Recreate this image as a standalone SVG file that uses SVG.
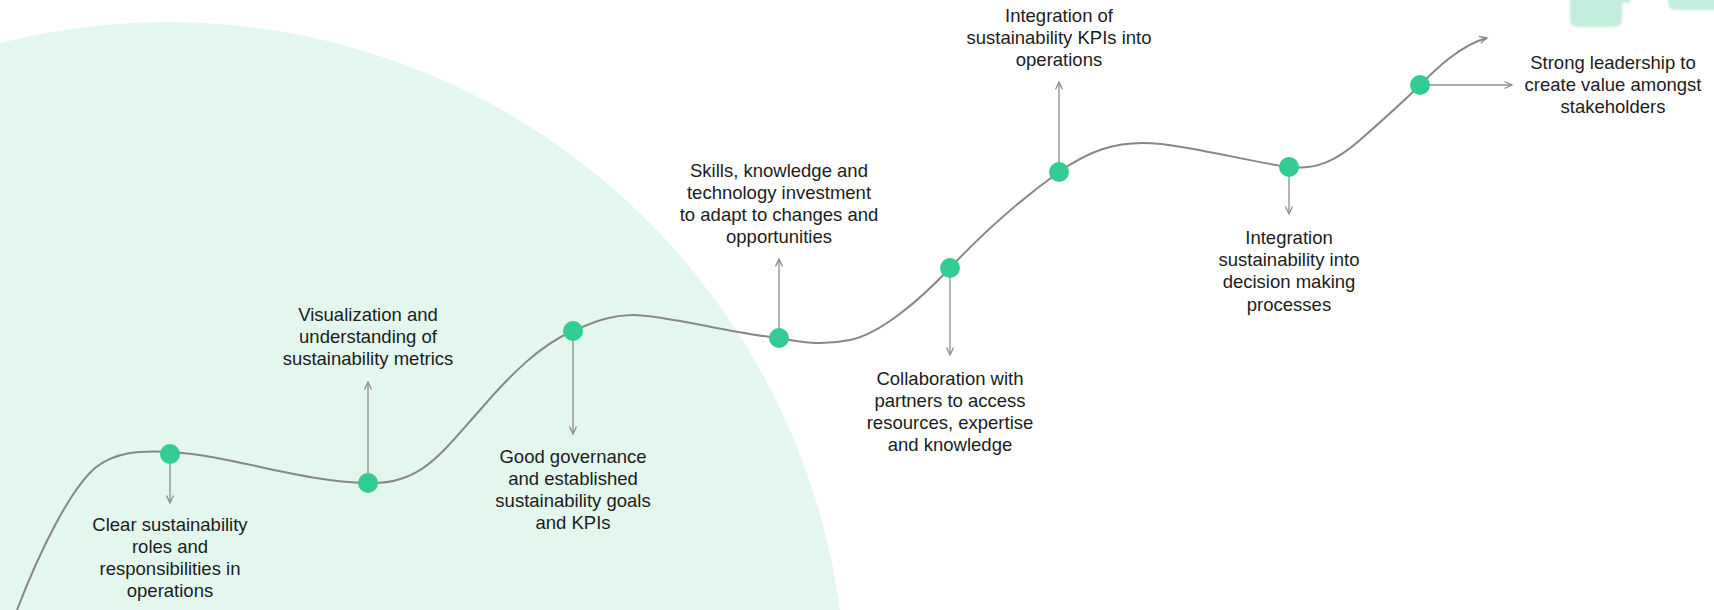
<svg xmlns="http://www.w3.org/2000/svg" width="1714" height="610" viewBox="0 0 1714 610">
  <style>
    .label { font-family: "Liberation Sans", Arial, sans-serif; font-size: 18.5px; fill: #1c1c1c; text-anchor: middle; }
    .dot { fill: #33CC95; }
    .track { fill: none; stroke: #878787; stroke-width: 2; }
    .link { fill: none; stroke: #8c8c8c; stroke-width: 1.3; marker-end: url(#head); }
  </style>
  <defs>
    <marker id="head" markerUnits="userSpaceOnUse" markerWidth="12" markerHeight="12" refX="8" refY="4" orient="auto" overflow="visible">
      <path d="M0.5,0.5 L8,4 L0.5,7.5" fill="none" stroke="#8c8c8c" stroke-width="1.3"/>
    </marker>
    <filter id="soft" x="-20%" y="-20%" width="140%" height="140%">
      <feGaussianBlur stdDeviation="1.2"/>
    </filter>
  </defs>

  <rect width="1714" height="610" fill="#ffffff"/>

  <!-- backdrop -->
  <circle cx="168" cy="700" r="678" fill="#E3F7EE"/>
  <g filter="url(#soft)" fill="#C3EDDC">
    <path d="M1570,-10 L1630,-10 L1630,3 L1622,3 L1622,19 Q1622,27 1614,27 L1578,27 Q1570,27 1570,19 Z"/>
    <path d="M1668,-10 L1720,-10 L1720,10 L1676,10 Q1668,10 1668,2 Z"/>
  </g>

  <!-- connectors -->
  <g id="connectors">
    <path class="track" marker-end="url(#head)" d="M17,610 C40,550 70,490 95,468 C115,452 140,450 170,452 C230,455 300,482 368,483 C420,485 440,455 480,410 C510,375 540,345 573,331 C600,319 615,315 633,315 C665,315 735,334 779,338 C800,342 820,346 850,340 C880,334 920,300 950,268 C980,236 1020,200 1059,172 C1090,150 1115,143 1143,143 C1180,143 1250,162 1289,167 C1315,170 1335,162 1360,140 C1385,118 1405,100 1420,85 C1435,70 1460,45 1487,38"/>
    <line class="link" x1="170" y1="454" x2="170" y2="503"/>
    <line class="link" x1="368" y1="483" x2="368" y2="382"/>
    <line class="link" x1="573" y1="331" x2="573" y2="434"/>
    <line class="link" x1="779" y1="338" x2="779" y2="259"/>
    <line class="link" x1="950" y1="268" x2="950" y2="355"/>
    <line class="link" x1="1059" y1="172" x2="1059" y2="82"/>
    <line class="link" x1="1289" y1="167" x2="1289" y2="214"/>
    <line class="link" x1="1420" y1="85" x2="1512" y2="85"/>
  </g>

  <!-- milestones -->
  <g id="step-roles">
    <circle class="dot" cx="170" cy="454" r="10"/>
    <text class="label" x="170" y="531">Clear sustainability</text>
    <text class="label" x="170" y="553">roles and</text>
    <text class="label" x="170" y="575">responsibilities in</text>
    <text class="label" x="170" y="597">operations</text>
  </g>
  <g id="step-metrics">
    <circle class="dot" cx="368" cy="483" r="10"/>
    <text class="label" x="368" y="321">Visualization and</text>
    <text class="label" x="368" y="343">understanding of</text>
    <text class="label" x="368" y="365">sustainability metrics</text>
  </g>
  <g id="step-governance">
    <circle class="dot" cx="573" cy="331" r="10"/>
    <text class="label" x="573" y="463">Good governance</text>
    <text class="label" x="573" y="485">and established</text>
    <text class="label" x="573" y="507">sustainability goals</text>
    <text class="label" x="573" y="529">and KPIs</text>
  </g>
  <g id="step-skills">
    <circle class="dot" cx="779" cy="338" r="10"/>
    <text class="label" x="779" y="177">Skills, knowledge and</text>
    <text class="label" x="779" y="199">technology investment</text>
    <text class="label" x="779" y="221">to adapt to changes and</text>
    <text class="label" x="779" y="243">opportunities</text>
  </g>
  <g id="step-collaboration">
    <circle class="dot" cx="950" cy="268" r="10"/>
    <text class="label" x="950" y="385">Collaboration with</text>
    <text class="label" x="950" y="407">partners to access</text>
    <text class="label" x="950" y="429">resources, expertise</text>
    <text class="label" x="950" y="451">and knowledge</text>
  </g>
  <g id="step-kpis">
    <circle class="dot" cx="1059" cy="172" r="10"/>
    <text class="label" x="1059" y="22">Integration of</text>
    <text class="label" x="1059" y="44">sustainability KPIs into</text>
    <text class="label" x="1059" y="66">operations</text>
  </g>
  <g id="step-decisions">
    <circle class="dot" cx="1289" cy="167" r="10"/>
    <text class="label" x="1289" y="244">Integration</text>
    <text class="label" x="1289" y="266">sustainability into</text>
    <text class="label" x="1289" y="288">decision making</text>
    <text class="label" x="1289" y="311">processes</text>
  </g>
  <g id="step-leadership">
    <circle class="dot" cx="1420" cy="85" r="10"/>
    <text class="label" x="1613" y="69">Strong leadership to</text>
    <text class="label" x="1613" y="91">create value amongst</text>
    <text class="label" x="1613" y="113">stakeholders</text>
  </g>
</svg>
